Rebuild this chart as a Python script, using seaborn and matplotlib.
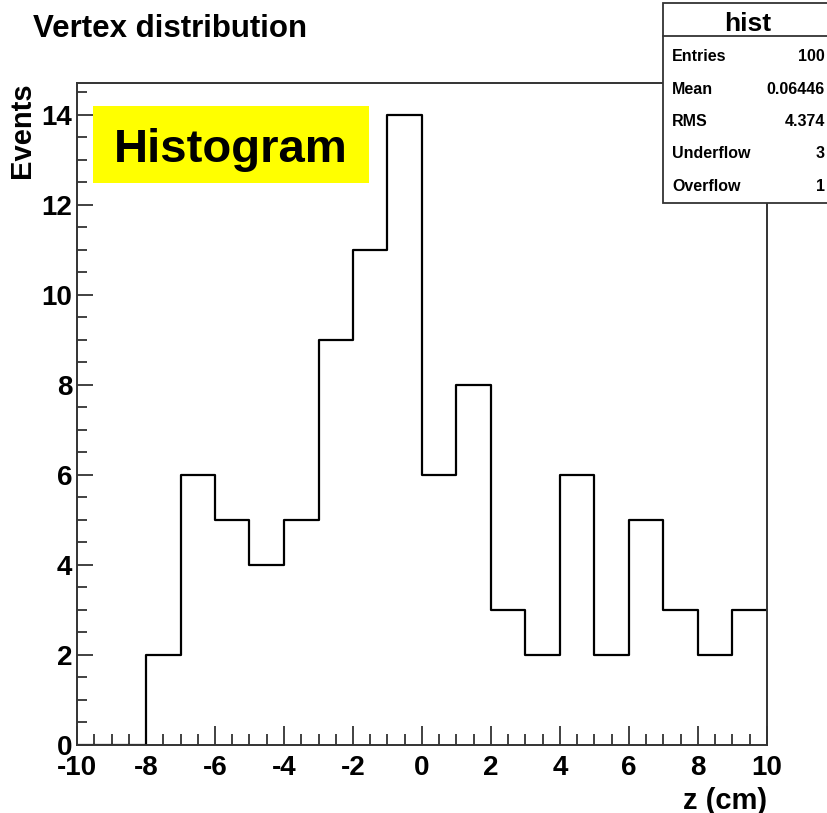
import numpy as np
import pandas as pd
import matplotlib
matplotlib.use("Agg")
import matplotlib.pyplot as plt
from matplotlib.patches import Rectangle
from matplotlib.ticker import MultipleLocator
import seaborn as sns

# ---- data ----
bin_edges = [-10, -9, -8, -7, -6, -5, -4, -3, -2, -1, 0, 1, 2, 3, 4, 5, 6, 7, 8, 9, 10]
counts = [0, 0, 2, 6, 5, 4, 5, 9, 11, 14, 6, 8, 3, 2, 6, 2, 5, 3, 2, 3]
stat_names = ["Entries", "Mean", "RMS", "Underflow", "Overflow"]
stat_values = ["100", "0.06446", "4.374", "3", "1"]
title = "Vertex distribution"
xlabel = "z (cm)"
ylabel = "Events"
label_box = "Histogram"
stats_title = "hist"

sns.set_style("white")
plt.rcParams["font.family"] = ["Liberation Sans", "DejaVu Sans"]
plt.rcParams["font.weight"] = "bold"
plt.rcParams["axes.unicode_minus"] = False
plt.rcParams["text.color"] = "black"
plt.rcParams["axes.labelcolor"] = "black"

W, H = 828, 813
fig = plt.figure(figsize=(W / 100, H / 100), dpi=100)
fig.patch.set_facecolor("white")

def fx(px):
    return px / W

def fy(py):
    return 1 - py / H

ax_l, ax_r, ax_t, ax_b = 77, 767, 83, 745
ax = fig.add_axes([fx(ax_l), fy(ax_b), fx(ax_r - ax_l), (ax_b - ax_t) / H])

edges = np.array(bin_edges, dtype=float)
centers = (edges[:-1] + edges[1:]) / 2
df = pd.DataFrame({"z": centers, "n": counts})
sns.histplot(data=df, x="z", weights="n", bins=len(counts),
             binrange=(bin_edges[0], bin_edges[-1]), element="step", fill=False,
             color="black", linewidth=1.6, ax=ax)

ax.set_xlim(-10, 10)
ax.set_ylim(0, 14.7)
ax.xaxis.set_major_locator(MultipleLocator(2))
ax.xaxis.set_minor_locator(MultipleLocator(0.5))
ax.yaxis.set_major_locator(MultipleLocator(2))
ax.yaxis.set_minor_locator(MultipleLocator(0.5))

frame_col = "#333333"
for s in ax.spines.values():
    s.set_color(frame_col)
    s.set_linewidth(1.4)

ax.tick_params(axis="both", which="both", bottom=True, left=True, top=False, right=False,
               labelcolor="black")
ax.tick_params(axis="x", which="major", direction="in", length=13.5, width=1.3,
               color=frame_col, labelsize=20, pad=7)
ax.tick_params(axis="x", which="minor", direction="in", length=8, width=1.3, color=frame_col)
ax.tick_params(axis="y", which="major", direction="in", length=11.5, width=1.3,
               color=frame_col, labelsize=20, pad=3.5)
ax.tick_params(axis="y", which="minor", direction="in", length=7.5, width=1.3, color=frame_col)
for lab in ax.get_xticklabels() + ax.get_yticklabels():
    lab.set_fontweight("bold")

ax.set_xlabel(xlabel, loc="right", fontsize=21, fontweight="bold", color="black")
ax.xaxis.set_label_coords(1.0, (ax_b - 787) / (ax_b - ax_t))
ax.set_ylabel(ylabel, loc="top", fontsize=21, fontweight="bold", color="black")
ax.yaxis.set_label_coords((36 - ax_l) / (ax_r - ax_l), (ax_b - 82) / (ax_b - ax_t))

# title
fig.text(fx(33), fy(37), title, fontsize=22.5, fontweight="bold", ha="left", va="baseline")

# yellow label box
fig.add_artist(Rectangle((fx(93), fy(183)), fx(369 - 93), (183 - 106) / H,
                         transform=fig.transFigure, facecolor="#ffff00", edgecolor="none", zorder=2))
fig.text(fx(231), fy(162), label_box, fontsize=34, fontweight="bold", ha="center",
         va="baseline", zorder=3)

# stats box
bx_l, bx_t, bx_b, bx_r = 663, 3, 203, 832
fig.add_artist(Rectangle((fx(bx_l), fy(bx_b)), fx(bx_r - bx_l), (bx_b - bx_t) / H,
                         transform=fig.transFigure, facecolor="white", edgecolor=frame_col,
                         linewidth=1.3, zorder=4))
fig.add_artist(plt.Line2D([fx(bx_l), fx(bx_r)], [fy(36), fy(36)], transform=fig.transFigure,
                          color=frame_col, linewidth=1.3, zorder=5))
fig.text(fx(748), fy(31), stats_title, fontsize=19, fontweight="bold", ha="center",
         va="baseline", zorder=6)
row_base = [61, 93.5, 126, 158.5, 191]
for name, val, yb in zip(stat_names, stat_values, row_base):
    fig.text(fx(672), fy(yb), name, fontsize=11.5, fontweight="bold", ha="left",
             va="baseline", zorder=6)
    fig.text(fx(825), fy(yb), val, fontsize=11.5, fontweight="bold", ha="right",
             va="baseline", zorder=6)

fig.savefig("out.png", dpi=100, facecolor="white")
